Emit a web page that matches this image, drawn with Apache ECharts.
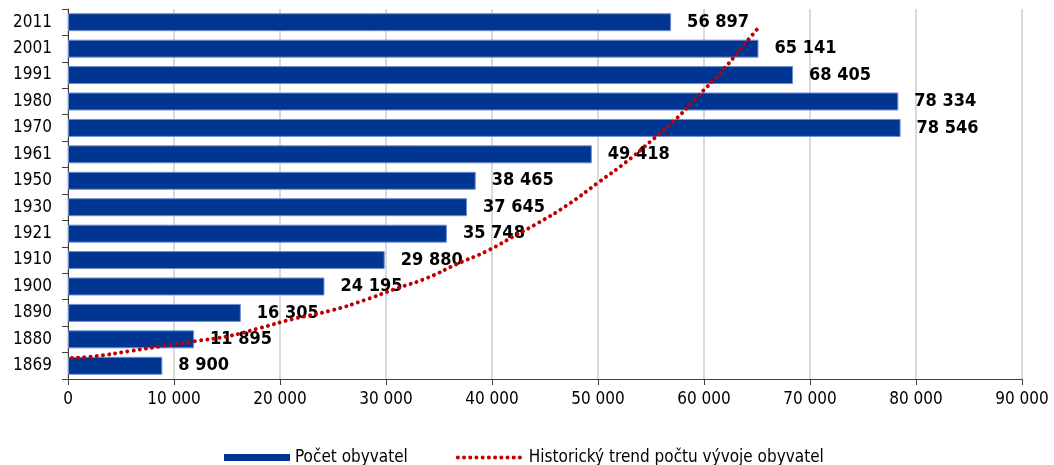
<!DOCTYPE html>
<html>
<head>
<meta charset="utf-8">
<script src="https://cdn.jsdelivr.net/npm/echarts@6/dist/echarts.min.js"></script>
<style>html,body{margin:0;padding:0;background:#fff}#c{width:1054px;height:465px}</style>
</head>
<body>
<div id="c"></div>
<script>
var years = ['1869','1880','1890','1900','1910','1921','1930','1950','1961','1970','1980','1991','2001','2011'];
var population = [8900, 11895, 16305, 24195, 29880, 35748, 37645, 38465, 49418, 78546, 78334, 68405, 65141, 56897];
var xTicks = [0, 10000, 20000, 30000, 40000, 50000, 60000, 70000, 80000, 90000];
// trend curve: value (x) and position in category units counted from the bottom (y)
var trendValue = [377, 2736, 5849, 8962, 12075, 15189, 18113, 21226, 25000, 28019, 30849, 33868, 36698, 39528, 42264, 44340, 46981, 50094, 52642, 55000, 57358, 59528, 61698, 63679, 65189];
var trendPos = [0.795, 0.870, 1.059, 1.249, 1.438, 1.627, 1.930, 2.270, 2.611, 2.989, 3.405, 3.821, 4.351, 4.843, 5.448, 5.902, 6.546, 7.454, 8.210, 9.005, 9.837, 10.745, 11.653, 12.599, 13.318];
var seriesNames = ['Počet obyvatel', 'Historický trend počtu vývoje obyvatel'];

var FONT = "'Liberation Sans Narrow','Arial Narrow','DejaVu Sans Condensed',sans-serif";
function fmt(v){ return String(Math.round(v)).replace(/\B(?=(\d{3})+(?!\d))/g, ' '); }

var trendData = trendValue.map(function(v,i){ return [v, trendPos[i]]; });
var dotted = {color:'#c00000', width:4, type:[0.01,6.2], cap:'round'};

var chart = echarts.init(document.getElementById('c'), null, {renderer:'canvas'});
chart.setOption({
  animation:false,
  backgroundColor:'#fff',
  textStyle:{fontFamily:FONT},
  grid:{left:68, right:32, top:9, bottom:86},
  xAxis:{
    type:'value', min:xTicks[0], max:xTicks[xTicks.length-1], interval:xTicks[1]-xTicks[0],
    axisLine:{show:true, lineStyle:{color:'#404040', width:1}},
    axisTick:{show:true, length:6, lineStyle:{color:'#404040'}},
    axisLabel:{color:'#000', fontSize:17, fontFamily:FONT, margin:12, formatter:function(v){return fmt(v);}},
    splitLine:{show:true, lineStyle:{color:'#d9d9d9', width:2}}
  },
  yAxis:[{
    type:'category', data:years,
    axisLine:{show:true, lineStyle:{color:'#404040', width:1}},
    axisTick:{show:true, length:6, lineStyle:{color:'#404040'}},
    axisLabel:{color:'#000', fontSize:17, fontFamily:FONT, margin:16},
    splitLine:{show:false}
  },{
    type:'value', min:0, max:years.length, show:false, splitLine:{show:false}
  }],
  legend:{
    left:219, top:444, itemGap:48, itemWidth:66, itemHeight:7,
    textStyle:{fontSize:17, color:'#000', fontFamily:FONT},
    data:[
      {name:seriesNames[0], icon:'rect', itemStyle:{borderWidth:0}},
      {name:seriesNames[1], itemStyle:{opacity:0}, lineStyle:dotted}
    ]
  },
  series:[{
    name:seriesNames[0], type:'bar', data:population, yAxisIndex:0,
    barCategoryGap:'32%',
    itemStyle:{color:'#003591', borderColor:'#6f8fcf', borderWidth:1},
    label:{show:true, position:'right', distance:16, color:'#000', fontWeight:'bold', fontSize:18, fontFamily:FONT,
      formatter:function(p){return fmt(p.value);}},
    z:2
  },{
    name:seriesNames[1], type:'line', data:trendData, yAxisIndex:1, xAxisIndex:0,
    symbol:'none', smooth:true,
    lineStyle:dotted,
    itemStyle:{color:'#c00000'},
    z:5
  }]
});
</script>
</body>
</html>
